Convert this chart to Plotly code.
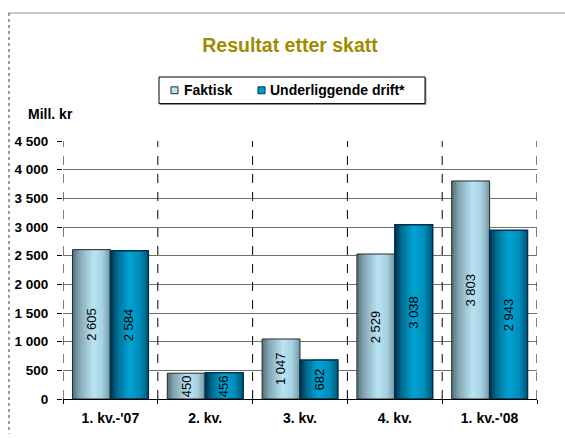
import plotly.graph_objects as go

categories = ["1. kv.-'07", "2. kv.", "3. kv.", "4. kv.", "1. kv.-'08"]
faktisk = [2605, 450, 1047, 2529, 3803]
underliggende = [2584, 456, 682, 3038, 2943]
series_names = ["Faktisk", "Underliggende drift*"]
y_ticks = [0, 500, 1000, 1500, 2000, 2500, 3000, 3500, 4000, 4500]

W, H = 565, 438
L, R, T, B = 63, 28, 141, 35
PW, PH = W - L - R, H - T - B

FONT = "Liberation Sans, Arial"
BAR_W = 0.4
N_STRIPS = 16

grad_f = [(0.0, (80, 110, 122)), (0.18, (132, 165, 178)), (0.55, (184, 228, 244)),
          (0.8, (165, 208, 224)), (1.0, (118, 150, 163))]
grad_u = [(0.0, (0, 48, 72)), (0.18, (0, 108, 146)), (0.5, (0, 164, 212)),
          (0.78, (0, 140, 185)), (1.0, (0, 86, 120))]


def interp(stops, t):
    for (t0, c0), (t1, c1) in zip(stops[:-1], stops[1:]):
        if t0 <= t <= t1:
            f = (t - t0) / (t1 - t0) if t1 > t0 else 0
            return "rgb(%d,%d,%d)" % tuple(round(a + (b - a) * f) for a, b in zip(c0, c1))
    return "rgb(%d,%d,%d)" % stops[-1][1]


def px_x(px):
    return (px - L) / PW


def px_y(py):
    return (H - B - py) / PH


fig = go.Figure()

specs = [
    (series_names[0], faktisk, -BAR_W, grad_f, "#2a2a2a", 1),
    (series_names[1], underliggende, 0.0, grad_u, "#00304a", 1.5),
]

for name, vals, off, stops, linecol, lw in specs:
    for i in range(N_STRIPS):
        s = off + BAR_W * i / N_STRIPS
        t = (i + 0.5) / N_STRIPS
        fig.add_trace(go.Bar(x=categories, y=vals, offset=s, width=off + BAR_W - s,
                             marker=dict(color=interp(stops, t), line=dict(width=0)),
                             showlegend=False, hoverinfo="skip"))
    fig.add_trace(go.Bar(x=categories, y=vals, name=name, offset=off, width=BAR_W,
                         marker=dict(color="rgba(0,0,0,0)", line=dict(color=linecol, width=lw)),
                         showlegend=False))

annotations = []
for vals, shift in ((faktisk, -19), (underliggende, 19)):
    for c, v in zip(categories, vals):
        annotations.append(dict(x=c, y=v / 2, xref="x", yref="y", xshift=shift,
                                text=f"{v:,}".replace(",", " "), textangle=-90,
                                showarrow=False,
                                font=dict(family=FONT, size=13, color="black")))

annotations.append(dict(text="Mill. kr", xref="paper", yref="paper",
                        x=px_x(26), y=px_y(114), xanchor="left", yanchor="middle",
                        showarrow=False,
                        font=dict(family=FONT, size=14, color="black", weight="bold")))

shapes = []
# dashed vertical category dividers
for k in range(len(categories) + 1):
    shapes.append(dict(type="line", xref="x", yref="paper", x0=k - 0.5, x1=k - 0.5, y0=0, y1=1,
                       line=dict(color="black", width=1, dash="dash"), layer="above"))
# chart frame (top gray line, dotted left)
shapes.append(dict(type="line", xref="paper", yref="paper", x0=px_x(8), x1=px_x(W),
                   y0=px_y(11), y1=px_y(11), line=dict(color="#c8c8c8", width=2)))
shapes.append(dict(type="line", xref="paper", yref="paper", x0=px_x(9), x1=px_x(9),
                   y0=px_y(11), y1=px_y(H), line=dict(color="#9a9a9a", width=2, dash="dot")))

# legend box
LEG_X0, LEG_X1, LEG_Y0, LEG_Y1 = 159, 425, 76, 103
LEG_CY = (LEG_Y0 + LEG_Y1) / 2
shapes.append(dict(type="rect", xref="paper", yref="paper",
                   x0=px_x(LEG_X0 + 1), x1=px_x(LEG_X1 + 1), y0=px_y(LEG_Y0 + 1), y1=px_y(LEG_Y1 + 1),
                   line=dict(color="#9a9a9a", width=1), fillcolor="#9a9a9a"))
shapes.append(dict(type="rect", xref="paper", yref="paper",
                   x0=px_x(LEG_X0), x1=px_x(LEG_X1), y0=px_y(LEG_Y0), y1=px_y(LEG_Y1),
                   line=dict(color="black", width=1), fillcolor="white"))
legend_items = [
    (series_names[0], 171, 182, "#b8e4f4", "#2a2a2a"),
    (series_names[1], 258, 268, "#0099cc", "#00304a"),
]
for name, mx, tx, fill, line in legend_items:
    shapes.append(dict(type="rect", xref="paper", yref="paper",
                       x0=px_x(mx), x1=px_x(mx + 7), y0=px_y(LEG_CY - 3.5), y1=px_y(LEG_CY + 3.5),
                       line=dict(color=line, width=1), fillcolor=fill))
    annotations.append(dict(text=name, xref="paper", yref="paper", x=px_x(tx), y=px_y(LEG_CY),
                            xanchor="left", yanchor="middle", showarrow=False,
                            font=dict(family=FONT, size=14, color="black", weight="bold")))

fig.update_layout(
    width=W, height=H,
    margin=dict(l=L, r=R, t=T, b=B),
    paper_bgcolor="white", plot_bgcolor="white",
    barmode="overlay",
    showlegend=False,
    separators=", ",
    title=dict(text="<b>Resultat etter skatt</b>", x=290 / W, xanchor="center",
               y=1 - 45 / H, yanchor="middle",
               font=dict(family=FONT, size=19.5, color="#a08b00")),
    xaxis=dict(type="category", categoryorder="array", categoryarray=categories,
               range=[-0.5, len(categories) - 0.5],
               showgrid=False, zeroline=False, showline=True, linecolor="black", linewidth=1,
               ticks="outside", tickson="boundaries", ticklen=4, tickcolor="black",
               ticklabelstandoff=6,
               tickfont=dict(family=FONT, size=14, color="black", weight="bold")),
    yaxis=dict(range=[0, 4500], tickvals=y_ticks, tickformat=",d",
               showgrid=True, gridcolor="#6e6e6e", gridwidth=1, zeroline=False,
               showline=False, ticks="outside", ticklen=5, tickcolor="black",
               ticklabelstandoff=6,
               tickfont=dict(family=FONT, size=13.5, color="black", weight="bold")),
    annotations=annotations,
    shapes=shapes,
)

fig.write_html("out.html", config={"displayModeBar": False},
               post_script="document.body.style.margin='0px';document.body.style.overflow='hidden';")
